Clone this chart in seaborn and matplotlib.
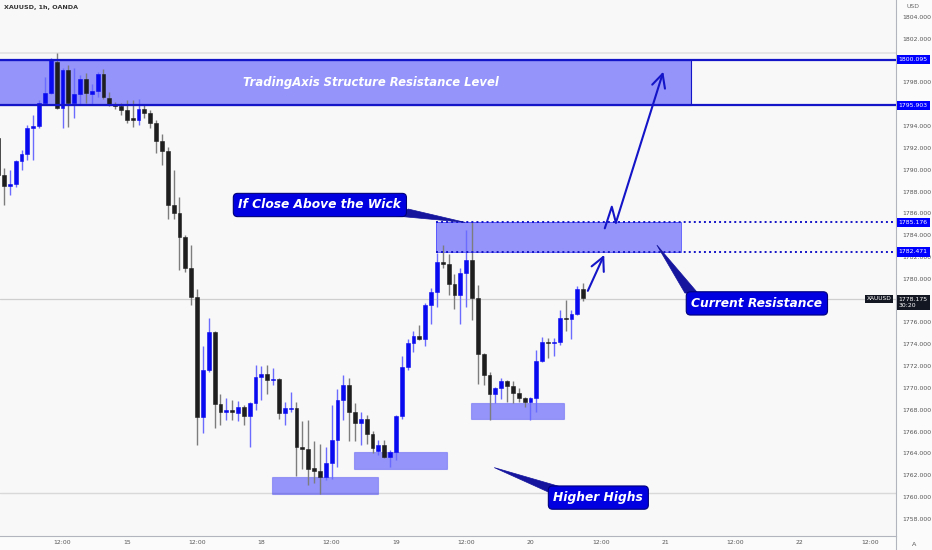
import numpy as np
import pandas as pd
import matplotlib
matplotlib.use("Agg")
import matplotlib.pyplot as plt
import matplotlib.transforms as mtransforms
from matplotlib.patches import Rectangle, Polygon
from matplotlib.lines import Line2D
import seaborn as sns

# ── Candle data: XAUUSD 1h, bar -1 .. 99 ─────────────────────────────────────
first_bar = -1
opens = [1792.9, 1789.5, 1788.5, 1788.7, 1790.8, 1791.4, 1793.8, 1794.0, 1796.1, 1797.0,
         1799.9, 1795.7, 1799.1, 1796.1, 1796.9, 1798.3, 1796.9, 1797.2, 1798.8, 1796.6,
         1796.0, 1795.8, 1795.5, 1794.7, 1794.6, 1795.6, 1795.2, 1794.3, 1792.6, 1791.7,
         1786.8, 1786.0, 1783.8, 1781.0, 1778.3, 1767.3, 1771.6, 1775.1, 1768.5, 1767.8,
         1768.0, 1767.7, 1768.3, 1767.4, 1768.6, 1771.0, 1771.3, 1770.7, 1770.8, 1767.7,
         1768.1, 1768.2, 1764.6, 1764.4, 1762.7, 1762.4, 1761.8, 1763.1, 1765.2, 1768.9,
         1770.3, 1767.8, 1766.8, 1767.2, 1765.8, 1764.2, 1764.8, 1763.7, 1764.1, 1767.4,
         1771.9, 1774.1, 1774.8, 1774.5, 1777.6, 1778.8, 1781.5, 1781.4, 1779.5, 1778.5,
         1780.5, 1781.7, 1778.2, 1773.1, 1771.2, 1769.4, 1770.0, 1770.6, 1770.2, 1769.5,
         1769.1, 1768.7, 1769.1, 1772.5, 1774.2, 1774.1, 1774.2, 1776.4, 1776.3, 1776.8,
         1779.1]
highs = [1793.2, 1790.2, 1790.0, 1790.9, 1791.8, 1794.1, 1795.0, 1796.4, 1798.5, 1800.2,
         1800.7, 1799.3, 1799.6, 1799.3, 1798.7, 1798.9, 1797.9, 1799.0, 1799.2, 1797.1,
         1796.2, 1796.1, 1796.4, 1796.4, 1796.5, 1795.9, 1795.5, 1794.6, 1793.3, 1792.1,
         1790.0, 1787.5, 1784.0, 1783.1, 1779.1, 1773.8, 1776.4, 1775.2, 1769.4, 1769.1,
         1768.9, 1768.8, 1768.4, 1768.7, 1772.1, 1772.0, 1772.1, 1771.8, 1770.9, 1768.7,
         1769.6, 1768.7, 1767.0, 1767.1, 1765.1, 1764.9, 1764.6, 1768.4, 1769.9, 1771.2,
         1770.9, 1768.6, 1767.8, 1767.5, 1766.1, 1765.2, 1765.2, 1764.3, 1767.5, 1772.9,
         1774.5, 1775.2, 1775.8, 1777.8, 1779.2, 1782.4, 1783.1, 1782.3, 1780.4, 1781.0,
         1784.5, 1785.2, 1779.4, 1773.2, 1771.5, 1770.1, 1770.9, 1770.7, 1770.6, 1770.0,
         1769.2, 1769.2, 1773.5, 1774.7, 1774.6, 1774.6, 1777.1, 1778.1, 1777.1, 1779.3,
         1779.6]
lows = [1789.2, 1786.8, 1787.7, 1788.4, 1790.0, 1790.9, 1790.9, 1793.8, 1795.9, 1796.9,
        1795.6, 1793.8, 1793.9, 1794.7, 1795.9, 1796.1, 1795.9, 1796.7, 1796.5, 1795.8,
        1795.6, 1795.0, 1794.3, 1793.9, 1794.1, 1794.7, 1793.8, 1791.5, 1790.4, 1785.5,
        1785.5, 1780.8, 1780.6, 1777.6, 1764.8, 1765.9, 1771.5, 1766.3, 1766.6, 1767.1,
        1767.1, 1767.0, 1766.6, 1764.6, 1768.0, 1768.9, 1769.4, 1770.3, 1767.2, 1766.6,
        1767.8, 1761.9, 1762.6, 1761.1, 1761.3, 1760.3, 1761.6, 1761.7, 1762.8, 1767.1,
        1765.1, 1765.1, 1764.8, 1764.9, 1764.0, 1763.9, 1763.6, 1762.8, 1763.4, 1767.2,
        1771.6, 1773.3, 1774.4, 1773.8, 1775.9, 1777.4, 1781.0, 1778.5, 1777.2, 1775.9,
        1777.4, 1776.2, 1770.4, 1770.3, 1767.1, 1768.6, 1769.0, 1768.7, 1768.6, 1768.7,
        1768.3, 1767.1, 1767.8, 1772.4, 1772.7, 1772.9, 1773.9, 1775.2, 1774.5, 1776.7,
        1778.0]
closes = [1789.5, 1788.5, 1788.7, 1790.8, 1791.4, 1793.8, 1794.0, 1796.1, 1797.0, 1800.1,
          1795.7, 1799.1, 1796.1, 1796.9, 1798.3, 1797.0, 1797.2, 1798.8, 1796.7, 1796.0,
          1795.8, 1795.5, 1794.6, 1794.6, 1795.6, 1795.2, 1794.3, 1792.6, 1791.7, 1786.8,
          1786.0, 1783.8, 1781.0, 1778.3, 1767.3, 1771.6, 1775.1, 1768.5, 1767.8, 1768.0,
          1767.8, 1768.3, 1767.4, 1768.6, 1771.0, 1771.3, 1770.7, 1770.8, 1767.7, 1768.2,
          1768.2, 1764.6, 1764.4, 1762.6, 1762.4, 1761.8, 1763.1, 1765.2, 1768.9, 1770.3,
          1767.8, 1766.8, 1767.2, 1765.8, 1764.5, 1764.8, 1763.7, 1764.1, 1767.4, 1771.9,
          1774.1, 1774.8, 1774.5, 1777.6, 1778.8, 1781.5, 1781.4, 1779.5, 1778.5, 1780.5,
          1781.7, 1778.2, 1773.1, 1771.2, 1769.4, 1770.0, 1770.6, 1770.2, 1769.5, 1769.1,
          1768.7, 1769.1, 1772.5, 1774.2, 1774.1, 1774.2, 1776.4, 1776.3, 1776.8, 1779.1,
          1778.2]

# ── Axis labels ───────────────────────────────────────────────────────────────
tick_bars = [10, 21, 33, 44, 56, 67, 79, 90, 102, 113, 125, 136, 148]
tick_labels = ["12:00", "15", "12:00", "18", "12:00", "19", "12:00", "20",
               "12:00", "21", "12:00", "22", "12:00"]
price_ticks = list(range(1758, 1806, 2))
hidden_ticks = [1800, 1796, 1778]          # covered by the price tags

# ── Levels drawn on the chart ─────────────────────────────────────────────────
res_top, res_bot = 1800.095, 1795.903     # structure resistance
cur_top, cur_bot = 1785.176, 1782.471     # current resistance
last_price = 1778.175
swing_high, swing_low = 1800.7, 1760.37
support_boxes = [(45.8, 63.9, 1760.28, 1761.84),
                 (59.9, 75.8, 1762.6, 1764.1),
                 (79.8, 95.8, 1767.15, 1768.65)]

UP, DOWN = "#0a0af0", "#1e1e1e"
UP_WICK, DOWN_WICK = "#6b6bff", "#7d7d7d"
BOX = "#0000ff"
LINE = "#1414c8"
CALLOUT, TAIL = "#0000e0", "#15159e"

df = pd.DataFrame({"open": opens, "high": highs, "low": lows, "close": closes})
df["bar"] = np.arange(len(df)) + first_bar
df["up"] = df["close"] >= df["open"]

sns.set_theme(style="white")
plt.rcParams["font.family"] = ["DejaVu Sans"]

fig = plt.figure(figsize=(9.32, 5.5), dpi=100, facecolor="#fbfbfb")
ax = fig.add_axes([0, 14 / 550, 896 / 932, 536 / 550])
ax.set_facecolor("#f8f8f8")
ax.set_xlim(-0.684, 152.48)
ax.set_ylim(1756.43, 1805.56)

# reference lines
ax.axhline(swing_high, color="#e2e2e2", lw=1.2, zorder=0)
ax.axhline(swing_low, color="#d9d9d9", lw=1.0, zorder=0)
ax.axhline(last_price, color="#cfcfcf", lw=0.9, zorder=0)

# ── Candles ───────────────────────────────────────────────────────────────────
ax.vlines(df["bar"], df["low"], df["high"],
          colors=np.where(df["up"], UP_WICK, DOWN_WICK), lw=1, zorder=2)
body = np.maximum((df["close"] - df["open"]).abs(), 0.1)
bottom = np.minimum(df["open"], df["close"])
ax.bar(df["bar"], body, bottom=bottom, width=0.66,
       color=np.where(df["up"], UP, DOWN),
       edgecolor=np.where(df["up"], UP, DOWN), lw=0.4, zorder=3)

# ── Zones ─────────────────────────────────────────────────────────────────────
ax.add_patch(Rectangle((-2, res_bot), 119.4, res_top - res_bot,
                       fc=BOX, alpha=0.4, ec="none", zorder=1))
ax.add_patch(Rectangle((-2, res_bot), 119.4, res_top - res_bot,
                       fc="none", ec=LINE, lw=0.8, zorder=1))
ax.axhline(res_top, color=LINE, lw=1.6, zorder=4)
ax.axhline(res_bot, color=LINE, lw=1.6, zorder=4)
ax.text(62.7, (res_top + res_bot) / 2, "TradingAxis Structure Resistance Level",
        color="white", fontsize=8.4, fontweight="bold", style="italic",
        ha="center", va="center", zorder=5)

ax.add_patch(Rectangle((73.8, cur_bot), 41.9, cur_top - cur_bot,
                       fc=BOX, alpha=0.4, ec="none", zorder=1))
ax.add_patch(Rectangle((73.8, cur_bot), 41.9, cur_top - cur_bot,
                       fc="none", ec="#5050ff", lw=0.6, zorder=1))
for lvl in (cur_top, cur_bot):
    ax.plot([73.8, 153], [lvl, lvl], color=LINE, lw=1.4,
            linestyle=(0, (1, 1.6)), zorder=4)

for x0, x1, y0, y1 in support_boxes:
    ax.add_patch(Rectangle((x0, y0), x1 - x0, y1 - y0,
                           fc=BOX, alpha=0.4, ec="#4848f0", lw=0.8, zorder=1))

# ── Projection arrows ─────────────────────────────────────────────────────────
arrow = dict(arrowstyle="->,head_length=0.8,head_width=0.4",
             color=LINE, lw=1.5, shrinkA=0, shrinkB=0)
ax.annotate("", xy=(102.6, 1782.2), xytext=(99.8, 1778.9),
            arrowprops=arrow, zorder=5)
ax.plot([102.7, 103.9, 104.6], [1784.63, 1786.61, 1785.15],
        color=LINE, lw=1.5, zorder=5)
ax.annotate("", xy=(112.7, 1798.99), xytext=(104.6, 1785.15),
            arrowprops=arrow, zorder=5)

# ── Callouts ──────────────────────────────────────────────────────────────────
callout_box = dict(boxstyle="round,pad=0.42,rounding_size=0.35",
                   fc=CALLOUT, ec="#00007a", lw=0.8)
ax.add_patch(Polygon([(67.0, 1785.76), (69.1, 1786.4), (78.8, 1785.18)],
                     closed=True, fc=TAIL, ec=TAIL, lw=0.5, zorder=5))
ax.text(54.0, 1786.77, "If Close Above the Wick", color="white", fontsize=8.8,
        fontweight="bold", style="italic", ha="center", va="center",
        bbox=callout_box, zorder=6)

ax.add_patch(Polygon([(111.6, 1783.1), (116.4, 1778.7), (118.6, 1778.7)],
                     closed=True, fc=TAIL, ec=TAIL, lw=0.5, zorder=5))
ax.text(128.7, 1777.75, "Current Resistance", color="white", fontsize=8.8,
        fontweight="bold", style="italic", ha="center", va="center",
        bbox=callout_box, zorder=6)

ax.add_patch(Polygon([(83.8, 1762.7), (95.4, 1760.9), (93.3, 1760.4)],
                     closed=True, fc=TAIL, ec=TAIL, lw=0.5, zorder=5))
ax.text(101.6, 1759.95, "Higher Highs", color="white", fontsize=8.8,
        fontweight="bold", style="italic", ha="center", va="center",
        bbox=callout_box, zorder=6)

# ── Axes styling ──────────────────────────────────────────────────────────────
for side in ("top", "left"):
    ax.spines[side].set_visible(False)
for side in ("right", "bottom"):
    ax.spines[side].set_color("#b2b5be")
    ax.spines[side].set_linewidth(0.8)
fig.add_artist(Line2D([896 / 932] * 2, [0, 14 / 550], transform=fig.transFigure,
                      color="#b2b5be", lw=0.8))

ax.yaxis.tick_right()
ax.set_yticks(price_ticks)
ax.set_yticklabels(["" if p in hidden_ticks else f"{p:.3f}" for p in price_ticks])
ax.set_xticks(tick_bars)
ax.set_xticklabels(tick_labels)
ax.tick_params(axis="y", length=0, pad=4.5, labelsize=4.4, labelcolor="#555555")
ax.tick_params(axis="x", length=0, pad=3, labelsize=4.4, labelcolor="#555555")
ax.grid(False)

# price tags on the scale
tag = mtransforms.blended_transform_factory(ax.transAxes, ax.transData)
for lvl in (res_top, res_bot, cur_top, cur_bot):
    ax.text(1.003, lvl, f"{lvl:.3f}", transform=tag, ha="left", va="center",
            fontsize=4.4, color="white", clip_on=False, zorder=7,
            bbox=dict(boxstyle="square,pad=0.35", fc="#0000ff", ec="none"))
ax.text(1.003, last_price - 0.35, f"{last_price:.3f}\n30:20", transform=tag,
        ha="left", va="center", fontsize=4.4, color="white", clip_on=False,
        zorder=7, linespacing=1.3,
        bbox=dict(boxstyle="square,pad=0.35", fc="#131722", ec="none"))
ax.text(0.995, last_price, "XAUUSD", transform=tag, ha="right", va="center",
        fontsize=4.2, color="white", zorder=7,
        bbox=dict(boxstyle="square,pad=0.3", fc="#131722", ec="none"))

fig.text(4 / 932, 1 - 7 / 550, "XAUUSD, 1h, OANDA", fontsize=4.6,
         color="#333333", ha="left", va="center", fontweight="bold")
fig.text(913 / 932, 1 - 7 / 550, "USD", fontsize=4.4, color="#666666",
         ha="center", va="center")
fig.text(914 / 932, 1 - 544 / 550, "A", fontsize=4.6, color="#555555",
         ha="center", va="center")

fig.savefig("out.png", dpi=100, facecolor=fig.get_facecolor())
